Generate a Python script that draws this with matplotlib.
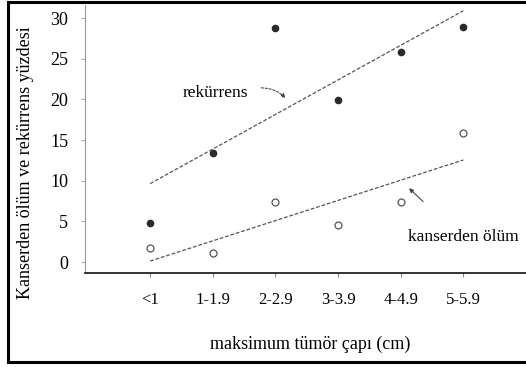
import numpy as np
import matplotlib.pyplot as plt
from matplotlib.lines import Line2D

# --- datos ---
kategoriler = ['<1', '1-1.9', '2-2.9', '3-3.9', '4-4.9', '5-5.9']
rekurrens = [4.8, 13.4, 28.8, 19.9, 25.8, 28.9]
kanser_olum = [1.7, 1.1, 7.4, 4.5, 7.4, 15.9]
y_ticks = [0, 5, 10, 15, 20, 25, 30]

plt.rcParams['font.family'] = ['Liberation Serif', 'DejaVu Serif']

fig = plt.figure(figsize=(5.26, 3.67), dpi=100)
ax = fig.add_axes([85 / 526, (367 - 273) / 367, 441 / 526, 268 / 367])

x = np.arange(len(kategoriler))

# regresyon doğruları
for vals in (rekurrens, kanser_olum):
    m, b = np.polyfit(x, vals, 1)
    ax.plot([x[0], x[-1]], [m * x[0] + b, m * x[-1] + b], color='#555555',
            lw=0.9, linestyle=(0, (3, 1.5)), zorder=2)

ax.plot(x, rekurrens, 'o', ms=4.5, color='#2a2a2a', zorder=3)
ax.plot(x, kanser_olum, 'o', ms=5, mfc='white', mec='#555555', mew=0.9, zorder=3)

ax.set_xlim(-1.04, 6.0)
ax.set_ylim(-1.35, 31.6)
ax.set_xticks(x)
ax.set_xticklabels(kategoriler, fontsize=12)
ax.set_yticks(y_ticks)
ax.set_yticklabels([str(v) for v in y_ticks], fontsize=13)
ax.tick_params(axis='x', length=3, color='#888888', pad=11)
ax.tick_params(axis='y', length=3, color='#aaaaaa', pad=9)

for s in ('top', 'right'):
    ax.spines[s].set_visible(False)
ax.spines['left'].set_color('#999999')
ax.spines['left'].set_linewidth(0.8)
ax.spines['bottom'].set_color('#111111')
ax.spines['bottom'].set_linewidth(1.2)

ax.set_xlabel('maksimum tümör çapı (cm)', fontsize=13, va='center')
ax.xaxis.set_label_coords(0.51, -0.265)
ax.set_ylabel('Kanserden ölüm ve rekürrens yüzdesi', fontsize=13, va='center', ha='center')
ax.yaxis.set_label_coords(-0.135, 0.41)

# etiketler
ax.text(1.04, 20.8, 'rekürrens', fontsize=12.5, ha='center', va='center')
ax.annotate('', xy=(2.19, 19.9), xytext=(1.73, 21.4),
            arrowprops=dict(arrowstyle='-|>', color='#444444', lw=0.8,
                            linestyle=(0, (2, 1.5)), mutation_scale=6,
                            connectionstyle='arc3,rad=-0.25'))
ax.text(4.12, 3.1, 'kanserden ölüm', fontsize=12.5, ha='left', va='center')
ax.annotate('', xy=(4.1, 9.3), xytext=(4.39, 7.2),
            arrowprops=dict(arrowstyle='-|>', color='#444444', lw=0.8,
                            mutation_scale=6))

# çerçeve
for xs, ys in (([8 / 526, 1.0], [365 / 367, 365 / 367]),
               ([8 / 526, 1.0], [5 / 367, 5 / 367]),
               ([8 / 526, 8 / 526], [5 / 367, 365 / 367])):
    fig.add_artist(Line2D(xs, ys, transform=fig.transFigure, color='black', lw=2.2))

fig.savefig('out.png', dpi=100)
